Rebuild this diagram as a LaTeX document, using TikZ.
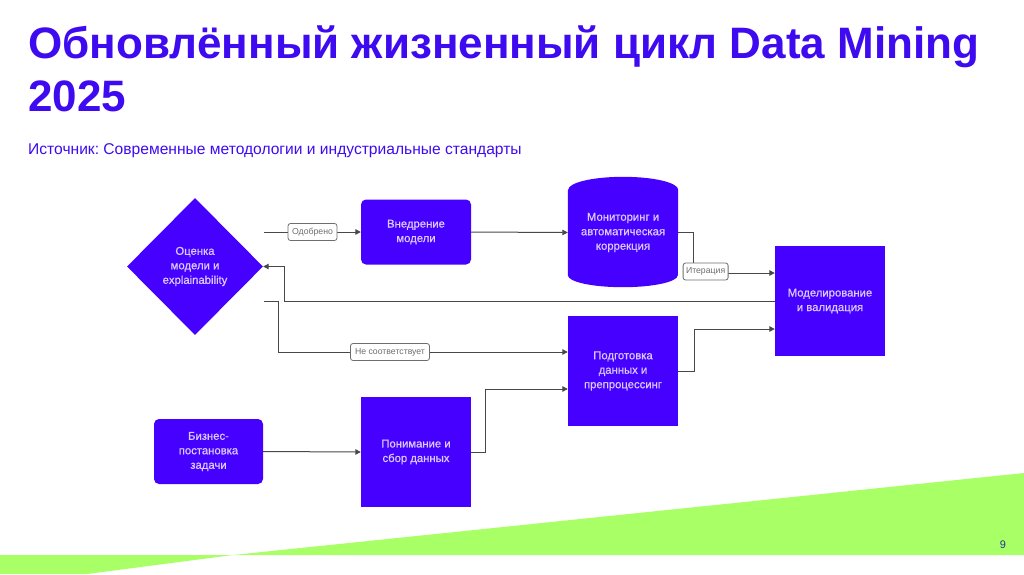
\documentclass[tikz,border=0pt]{standalone}
\usepackage{fontspec}
\setmainfont{Liberation Sans}
\newfontfamily\boxfont[FakeBold=0.6]{Liberation Sans}
\frenchspacing
\usetikzlibrary{arrows.meta,calc,backgrounds,shapes.geometric}
\definecolor{violetbox}{RGB}{70,0,255}
\definecolor{titleblue}{RGB}{62,10,240}
\definecolor{boxtext}{RGB}{220,203,255}
\definecolor{linegray}{RGB}{72,72,72}
\definecolor{lblgray}{RGB}{110,110,110}
\definecolor{slidegreen}{RGB}{168,255,102}
\definecolor{pagenum}{RGB}{40,53,147}
\tikzset{
  boxbase/.style={fill=violetbox, draw=none, text=boxtext, align=center, inner sep=0pt,
    font=\boxfont\fontsize{11.3}{14.5}\selectfont},
  sqbox/.style={boxbase, minimum width=110pt, minimum height=110pt},
  rbox/.style={boxbase, rounded corners=5pt, minimum width=110pt, minimum height=65pt},
  diabox/.style={boxbase, shape=diamond, minimum width=136pt, minimum height=137pt},
  cyltext/.style={boxbase, fill=none, minimum width=110pt, minimum height=85pt},
  conn/.style={draw=linegray, line width=1pt, -{Triangle[length=5.5pt,width=5.5pt]}},
  lbl/.style={draw=lblgray, fill=white, rounded corners=2.5pt, text=lblgray, inner sep=0pt,
    minimum height=17pt, font=\fontsize{8.7}{9}\selectfont, line width=0.8pt},
}
\begin{document}
\begin{tikzpicture}[x=1pt,y=-1pt]
\useasboundingbox (0,0) rectangle (1024,574);
% green decoration
\fill[slidegreen] (233,555) -- (1024,473) -- (1024,555) -- cycle;
\fill[slidegreen] (0,555) -- (233,555) -- (87,574) -- (0,574) -- cycle;
% title
\node[anchor=base west, inner sep=0pt, text=titleblue, font=\fontsize{44}{53}\selectfont\bfseries] (title1) at (28,58) {Обновлённый жизненный цикл Data Mining};
\node[anchor=base west, inner sep=0pt, text=titleblue, font=\fontsize{44}{53}\selectfont\bfseries] (title2) at (28,111) {2025};
\node[anchor=base west, inner sep=0pt, text=titleblue, font=\fontsize{15.6}{17}\selectfont] (src) at (28,154) {Источник: Современные методологии и индустриальные стандарты};
% nodes
\node[diabox] (dia) at (195,266.5) {Оценка\\модели и\\explainability};
\node[rbox] (vnd) at (416,232) {Внедрение\\модели};
\node[cyltext] (mon) at (623,232.5) {Мониторинг и\\автоматическая\\коррекция};
\begin{scope}[on background layer]
\fill[violetbox] (mon.north west) -- (mon.south west)
  arc[start angle=180, end angle=360, x radius=55pt, y radius=12pt]
  -- (mon.north east)
  arc[start angle=0, end angle=180, x radius=55pt, y radius=13pt] -- cycle;
\end{scope}
\node[sqbox] (mod) at (830,301) {Моделирование\\и валидация};
\node[sqbox] (prep) at (623,371) {Подготовка\\данных и\\препроцессинг};
\node[sqbox] (und) at (416,452) {Понимание и\\сбор данных};
\node[rbox, minimum width=109pt] (biz) at (208.5,451.5) {Бизнес-\\постановка\\задачи};
% helper coordinates
\coordinate (okStart) at ($(dia.east |- vnd.west)+(1,0)$);
\coordinate (fbA) at ($(mod.west)+(-490,0)$);
\coordinate (ncStart) at ($(dia.east)+(1,34.5)$);
\coordinate (ncA) at ($(ncStart)+(14,0)$);
\coordinate (ncEnd) at ($(prep.west)+(0,-19)$);
\coordinate (itA) at ($(mon.east)+(15,0)$);
\coordinate (itEnd) at ($(mod.west)+(0,-28)$);
\coordinate (ppA) at ($(prep.east)+(16,0)$);
\coordinate (ppEnd) at ($(mod.west)+(0,28)$);
\coordinate (unA) at ($(und.east)+(14,0)$);
\coordinate (unEnd) at ($(prep.west)+(0,18)$);
% connectors
\draw[conn] (okStart) -- node[lbl, minimum width=49pt]{Одобрено} (vnd.west);
\draw[conn] (vnd.east) -- (mon.west);
\draw[conn] (mon.east) -- (itA) |- node[lbl, minimum width=45pt, pos=0.576, yshift=1.5pt]{Итерация} (itEnd);
\draw[conn] (mod.west) -- (fbA) |- (dia.east);
\draw[conn] (ncStart) -- (ncA) |- node[lbl, minimum width=79pt, pos=0.693]{Не соответствует} (ncEnd);
\draw[conn] (prep.east) -- (ppA) |- (ppEnd);
\draw[conn] (und.east) -- (unA) |- (unEnd);
\draw[conn] (biz.east) -- (und.west);
% page number
\node[text=pagenum, font=\fontsize{11}{12}\selectfont, inner sep=0pt] (pg) at (1003,545) {9};
\end{tikzpicture}
\end{document}
